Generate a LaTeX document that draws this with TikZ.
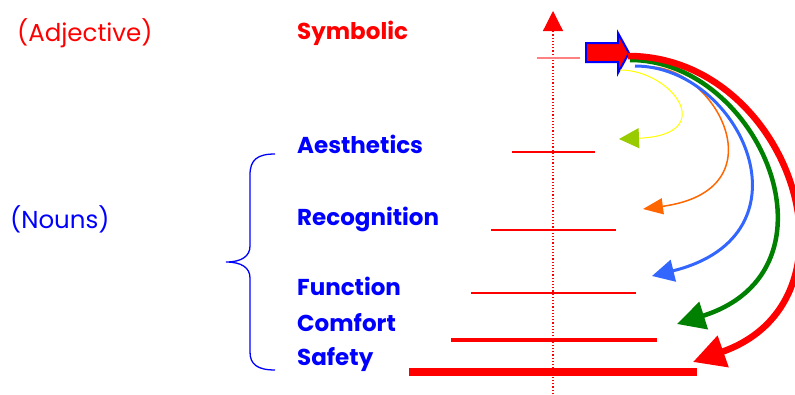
\documentclass[tikz,border=0pt]{standalone}
\usepackage{fontspec}
\setmainfont{Poppins}
\usetikzlibrary{arrows.meta}

\definecolor{myred}{RGB}{255,0,0}
\definecolor{myblue}{RGB}{0,0,255}
\definecolor{skyblue}{RGB}{51,102,255}
\definecolor{mygreen}{RGB}{0,128,0}
\definecolor{myorange}{RGB}{255,102,0}
\definecolor{myyellow}{RGB}{255,255,0}
\definecolor{limegreen}{RGB}{153,204,0}

\tikzset{
  noun/.style={anchor=west,text=myblue,font=\fontsize{23}{27}\selectfont\bfseries,inner sep=0pt},
  tag/.style={anchor=west,font=\fontsize{24.5}{28}\selectfont,inner sep=0pt},
  level/.style={myred}
}

\begin{document}
\begin{tikzpicture}[x=1pt,y=-1pt]
      \useasboundingbox (0,0) rectangle (795,394);
      % labels
      \node[tag,text=myred] (adj) at (17,33) {(Adjective)};
      \node[noun,text=myred] (symb) at (297,33) {Symbolic};
      \node[tag,text=myblue] (nouns) at (10,219) {(Nouns)};
      \node[noun] (aesth) at (297,144) {Aesthetics};
      \node[noun] (recog) at (297,219) {Recognition};
      \node[noun] (func) at (297,286) {Function};
      \node[noun] (comf) at (297,323) {Comfort};
      \node[noun] (safe) at (297,360) {Safety};
      % brace
      \draw[myblue,line width=1.3] (275,154) .. controls (257,154) and (250,160) .. (250,175)
        -- (250,246) .. controls (250,256) and (242,262) .. (226,262)
        .. controls (242,262) and (250,268) .. (250,278)
        -- (250,352) .. controls (250,364) and (257,370) .. (275,370);
      % axis and levels
      \draw[myred,dotted,line width=1.2,-{Triangle[length=20,width=20]}] (553,394) -- (553,11);
      \draw[level,red!50,line width=1.5] (537,58) -- (580,58);
      \draw[level,line width=1.2] (512,152) -- (595,152);
      \draw[level,line width=1.8] (491,230) -- (616,230);
      \draw[level,line width=2.6] (471,293) -- (636,293);
      \draw[level,line width=4] (451,340) -- (657,340);
      \draw[level,line width=7.5] (409,372) -- (697,372);
      % block arrow
      \draw[myblue,fill=myred,line width=2,line join=miter] (586,43) -- (618,43) -- (618,33)
        -- (629,53) -- (618,73) -- (618,62) -- (586,62) -- cycle;
      \coordinate (yelEnd) at (619,139);
      \coordinate (orgEnd) at (643,209);
      \coordinate (bluEnd) at (652,276);
      \coordinate (grnEnd) at (677,324);
      \coordinate (redEnd) at (693,362);
      % curved arrows
      \draw[myyellow,line width=1,-{Triangle[length=20,width=20,color=limegreen]}]
        (620,70) .. controls (672,70) and (720,135) .. (yelEnd);
      \draw[myorange,line width=1.5,-{Triangle[length=20,width=16]}]
        (650,67) .. controls (715,67) and (782,190) .. (orgEnd);
      \draw[skyblue,line width=3,-{Triangle[length=22,width=22]}]
        (635,66) .. controls (740,66) and (818,235) .. (bluEnd);
      \draw[mygreen,line width=4.5,-{Triangle[length=28,width=28]}]
        (630,60) .. controls (760,60) and (848,270) .. (grnEnd);
      \draw[myred,line width=6.5,-{Triangle[length=32,width=32]}]
        (628,56) .. controls (790,56) and (870,300) .. (redEnd);
\end{tikzpicture}
\end{document}
